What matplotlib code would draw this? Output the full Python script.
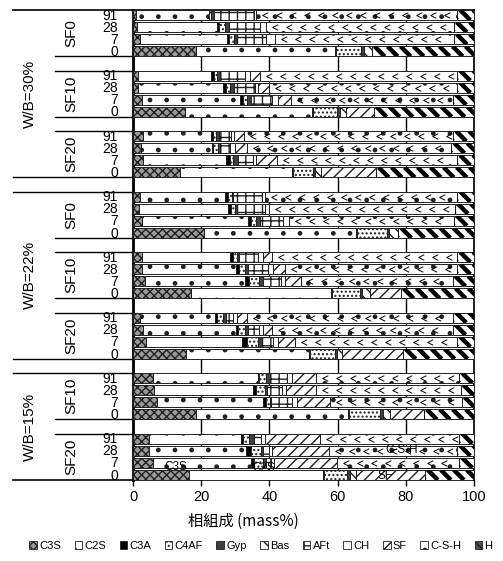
import numpy as np
import matplotlib
matplotlib.use('Agg')
import matplotlib.pyplot as plt
from matplotlib import font_manager
from matplotlib.patches import Patch
from matplotlib.collections import LineCollection
from matplotlib.transforms import IdentityTransform

# grupos (de cima para baixo)
wb_labels = ['W/B=30%', 'W/B=22%', 'W/B=15%']
sf_labels = [['SF0', 'SF10', 'SF20'], ['SF0', 'SF10', 'SF20'], ['SF10', 'SF20']]
ages = ['91', '28', '7', '0']

phases = ['C3S', 'C2S', 'C3A', 'C4AF', 'Gyp', 'Bas', 'AFt', 'CH', 'SF', 'C-S-H', 'H']

# mass% por barra, na ordem: 30%-SF0(91,28,7,0), 30%-SF10, 30%-SF20, 22%-SF0, 22%-SF10, 22%-SF20, 15%-SF10, 15%-SF20
c3s = [1.0, 1.2, 2.0, 18.6,  1.5, 1.5, 2.5, 15.2,  2.9, 2.2, 2.9, 13.7,
       2.0, 1.8, 2.5, 20.7,  2.5, 2.7, 3.4, 17.1,  2.0, 2.9, 3.7, 15.5,
       5.9, 6.2, 7.0, 18.6,  4.8, 4.8, 6.0, 16.3]
c2s = [21.2, 23.5, 25.6, 40.6,  21.5, 24.9, 28.8, 37.4,  20.1, 21.1, 24.5, 32.8,
       24.9, 26.1, 31.3, 44.7,  25.9, 27.6, 29.4, 41.1,  22.0, 27.2, 28.4, 36.1,
       30.8, 29.0, 31.2, 44.5,  26.9, 28.4, 28.6, 39.3]
c3a = [0.0, 0.5, 0.6, 0.3,  0.7, 0.8, 1.0, 0.3,  0.4, 0.3, 1.0, 0.3,
       1.0, 0.7, 0.9, 0.3,  0.8, 0.8, 1.2, 0.3,  0.7, 0.6, 1.2, 0.3,
       0.3, 0.8, 0.7, 0.3,  0.7, 1.4, 1.0, 0.3]
c4af = [0.8, 1.7, 1.4, 7.5,  1.0, 1.2, 1.0, 7.0,  1.0, 1.4, 0.9, 6.0,
        1.0, 1.2, 1.5, 8.7,  1.3, 1.7, 3.0, 8.0,  1.7, 2.1, 3.4, 7.3,
        2.0, 2.6, 1.2, 9.0,  1.7, 3.0, 2.4, 6.9]
gyp = [0.7, 1.3, 0.9, 0.7,  0.7, 1.2, 1.4, 0.8,  0.8, 0.6, 1.5, 0.7,
       0.5, 0.8, 1.0, 0.7,  0.7, 1.0, 1.2, 0.8,  1.0, 1.0, 1.0, 0.7,
       1.3, 0.7, 0.5, 0.8,  1.5, 0.5, 1.0, 0.7]
bas = [0, 0, 0, 2.3,  0, 0, 0, 1.9,  0, 0, 0, 1.5,
       0, 0, 0, 2.7,  0, 0, 0, 2.2,  0, 0, 0, 1.3,
       0, 0, 0, 2.3,  0, 0, 0, 2.0]
aft = [11.7, 9.0, 8.6, 0,  7.4, 6.1, 6.2, 0,  3.4, 2.8, 4.4, 0,
       8.3, 8.1, 6.8, 0,  5.5, 5.8, 5.3, 0,  1.9, 3.2, 3.4, 0,
       4.9, 4.3, 5.9, 0,  2.0, 1.9, 1.5, 0]
ch = [0.8, 1.8, 2.6, 0,  1.5, 1.0, 1.6, 0,  0.9, 1.4, 0.8, 0,
      0.9, 1.2, 1.8, 0,  1.5, 1.5, 1.0, 0,  1.2, 1.2, 1.5, 0,
      1.3, 1.4, 1.5, 0,  1.0, 0.8, 0.8, 0]
sf = [0, 0, 0, 0,  2.8, 3.3, 3.7, 8.0,  3.0, 3.5, 6.3, 16.2,
      0, 0, 0, 0,  2.7, 3.4, 4.9, 9.0,  2.8, 2.7, 4.9, 17.9,
      7.3, 8.8, 9.7, 9.8,  16.2, 16.7, 18.6, 20.1]
csh = [58.9, 55.1, 52.4, 0,  58.0, 55.1, 47.7, 0,  61.4, 60.1, 52.8, 0,
       56.5, 54.5, 48.3, 0,  54.2, 50.6, 44.3, 0,  60.6, 52.8, 47.6, 0,
       41.9, 42.3, 38.7, 0,  40.9, 37.6, 35.8, 0]
h = [4.9, 5.9, 5.9, 30.0,  4.9, 4.9, 6.1, 29.4,  6.1, 6.6, 4.9, 28.8,
     4.9, 5.6, 5.9, 22.2,  4.9, 4.9, 6.3, 21.5,  6.1, 6.3, 4.9, 20.9,
     4.3, 3.9, 3.6, 14.7,  4.3, 4.9, 4.3, 14.4]

valores = [c3s, c2s, c3a, c4af, gyp, bas, aft, ch, sf, csh, h]

# estilo de cada fase: (cor, hachura)
estilos = [
    ('#9a9a9a', 'xxxx'),
    ('white', '.'),
    ('black', None),
    ('white', '....'),
    ('#404040', None),
    ('white', '\\\\\\'),
    ('white', '++'),
    ('white', None),
    ('white', '///'),
    ('white', '.'),
    ('white', None),
]

fonte = 'Liberation Sans'
fonte_narrow = fonte
try:
    font_manager.findfont(font_manager.FontProperties(family='Liberation Sans Narrow'),
                          fallback_to_default=False)
    fonte_narrow = 'Liberation Sans Narrow'
except Exception:
    pass
plt.rcParams['font.family'] = [fonte, 'DejaVu Sans']

# posição das linhas (com linha vazia entre grupos)
rows, sep_sf, sep_wb, sf_centros, wb_centros = [], [], [], [], []
r = 0
for gi, sfs in enumerate(sf_labels):
    if gi > 0:
        sep_wb.append(r)
        r += 1
    inicio_wb = r
    for si, nome in enumerate(sfs):
        if si > 0:
            sep_sf.append(r)
            r += 1
        sf_centros.append((r + 1.5, nome))
        for a in ages:
            rows.append(r)
            r += 1
    wb_centros.append(((inicio_wb + r - 1) / 2, wb_labels[gi]))
rows = np.array(rows)
altura = 0.84
meia = altura / 2

fig = plt.figure(figsize=(5.03, 5.61), dpi=100)
ax = fig.add_axes([133 / 503, 1 - 480 / 561, 341 / 503, 470 / 561])
ax.set_xlim(0, 100)
ax.set_ylim(rows.max() + meia, -meia)

left = np.zeros(len(rows))
camadas = []
for vals, (fc, hatch) in zip(valores, estilos):
    vals = np.array(vals, dtype=float)
    m = vals > 0
    barras = ax.barh(rows[m], vals[m], left=left[m], height=altura, color=fc,
                     edgecolor='#202020', linewidth=0.7, hatch=hatch, zorder=3)
    camadas.append(barras)
    left += vals

# listras grossas de H (recortadas na barra)
passo = 13
for p in camadas[10]:
    x0, y0, x1, y1 = p.get_window_extent().extents
    ks = np.arange(x0 + y0 - passo, x1 + y1 + passo, passo)
    segs = [[(k - y1, y1), (k - y0, y0)] for k in ks]
    lc = LineCollection(segs, colors='black', linewidths=3.2,
                        transform=IdentityTransform(), zorder=4)
    ax.add_collection(lc)
    lc.set_clip_path(p)

# marcas "<" do C-S-H
chevron = [(1, 1), (-1, 0), (1, -1)]
for p in camadas[9]:
    x0, y0, x1, y1 = p.get_window_extent().extents
    xs = np.arange(x0 + 9, x1 - 4, 14)
    linha, = ax.plot(xs, np.full(len(xs), (y0 + y1) / 2), linestyle='none', marker=chevron,
                     ms=4, mfc='none', mec='black', mew=0.7, transform=IdentityTransform(),
                     zorder=4)
    linha.set_clip_path(p)

ax.set_xticks(range(0, 101, 20))
ax.set_yticks([])
ax.tick_params(axis='x', direction='out', length=4, width=1, labelsize=10.5, pad=3)
ax.xaxis.grid(True, color='black', linewidth=1.0)
ax.set_axisbelow(True)
for lado in ['top', 'right', 'bottom']:
    ax.spines[lado].set_linewidth(1.2)
ax.spines['left'].set_linewidth(2.0)

trans = ax.get_yaxis_transform()
x_sf = (55 - 133) / 341
x_wb = (13 - 133) / 341

# rótulos de idade, SF e W/B
for rr, a in zip(rows, ages * (len(rows) // 4)):
    ax.text((118 - 133) / 341, rr + 0.05, a, transform=trans, ha='right', va='center',
            fontsize=10)
for yc, nome in sf_centros:
    ax.text((71 - 133) / 341, yc, nome, transform=trans, ha='center', va='center',
            rotation=90, fontsize=11, family=[fonte_narrow, 'DejaVu Sans'])
for yc, nome in wb_centros:
    ax.text((30 - 133) / 341, yc, nome, transform=trans, ha='center', va='center',
            rotation=90, fontsize=11, family=[fonte_narrow, 'DejaVu Sans'])

# linhas separadoras na área de rótulos
for g in sep_sf:
    for yy in (g - 1 + meia, g + 1 - meia):
        ax.plot([x_sf, 0], [yy, yy], transform=trans, color='black', lw=1.0, clip_on=False)
for g in sep_wb:
    for yy in (g - 1 + meia, g + 1 - meia):
        ax.plot([x_wb, 0], [yy, yy], transform=trans, color='black', lw=1.0, clip_on=False)
for yy in (-meia, rows.max() + meia):
    ax.plot([x_wb, 0], [yy, yy], transform=trans, color='black', lw=1.2, clip_on=False)

# anotações na última série
ax.text(12.5, 37.35, 'C3S', ha='center', va='center', fontsize=8.5, zorder=5)
ax.text(38.3, 37.4, 'C2S', ha='center', va='center', fontsize=8.5, zorder=5)
ax.text(78.8, 35.95, 'C-S-H', ha='center', va='center', fontsize=8.5, zorder=5)
ax.text(73.8, 38.1, 'SF', ha='center', va='center', fontsize=8.5, zorder=5)

fig.text(243 / 503, 1 - 521 / 561, '相組成 (mass%)', ha='center', va='center',
         fontsize=11, family=['Noto Sans CJK JP', 'DejaVu Sans'])

handles = []
for nome, (fc, hatch) in zip(phases, estilos):
    if nome == 'H':
        fc, hatch = '#505050', '\\\\'
    handles.append(Patch(facecolor=fc, edgecolor='#202020', hatch=hatch, linewidth=0.6, label=nome))
fig.legend(handles=handles, loc='center', bbox_to_anchor=(261 / 503, 1 - 546 / 561),
           ncol=11, frameon=False, fontsize=8, handlelength=0.7, handleheight=0.7,
           handletextpad=0.2, columnspacing=1.2, borderpad=0)

fig.savefig('out.png', dpi=100)
